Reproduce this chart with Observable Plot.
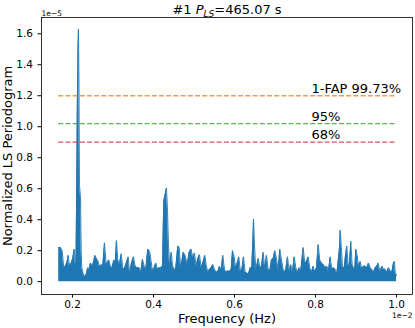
<!DOCTYPE html>
<html>
<head>
<meta charset="utf-8">
<script src="https://cdn.jsdelivr.net/npm/d3@7"></script>
<script src="https://cdn.jsdelivr.net/npm/@observablehq/plot@0.6"></script>
<style>
  html, body { margin: 0; padding: 0; background: white; }
  #chart { width: 415px; height: 328px; }
</style>
</head>
<body>
<div id="chart"></div>
<script>
// Frequency in units of 1e-2 Hz, power in units of 1e-5
const freq = [
0.166,0.1704,0.1746,0.1785,0.1827,0.1869,0.1894,0.1926,0.1968,0.2007,0.2042,0.2074,
0.2086,0.2104,0.2119,0.2136,0.2148,0.2160,0.2173,0.2198,0.2215,0.2230,0.2254,0.2304,
0.2338,0.2378,0.2402,0.2444,0.2486,0.2526,0.2551,0.2593,0.2635,0.2674,0.2709,0.2748,
0.2790,0.2832,0.2872,0.2896,0.2938,0.2980,0.3020,0.3054,0.3086,0.3119,0.3160,0.3202,
0.3242,0.3277,0.3316,0.3375,0.3415,0.3457,0.3506,0.3548,0.3597,0.3647,0.3686,0.3728,
0.3770,0.3810,0.3859,0.3909,0.3943,0.3975,0.4017,0.4057,0.4099,0.4141,0.4180,0.4222,
0.4254,0.4289,0.4321,0.4346,0.4370,0.4402,0.4437,0.4469,0.4511,0.4551,0.4600,0.4635,
0.4674,0.4733,0.4783,0.4832,0.4881,0.4931,0.4970,0.5012,0.5054,0.5094,0.5136,0.5178,
0.5217,0.5267,0.5301,0.5341,0.5383,0.5425,0.5464,0.5506,0.5548,0.5588,0.5630,0.5672,
0.5711,0.5753,0.5795,0.5835,0.5877,0.5919,0.5951,0.5993,0.6025,0.6067,0.6106,0.6148,
0.6190,0.6222,0.6264,0.6304,0.6346,0.6388,0.6427,0.6452,0.6470,0.6494,0.6526,0.6585,
0.6625,0.6667,0.6709,0.6748,0.6790,0.6832,0.6872,0.6914,0.6956,0.6995,0.7037,0.7079,
0.7119,0.7160,0.7202,0.7242,0.7267,0.7309,0.7351,0.7390,0.7432,0.7474,0.7514,0.7556,
0.7598,0.7637,0.7696,0.7736,0.7778,0.7820,0.7859,0.7901,0.7943,0.7983,0.8025,0.8067,
0.8106,0.8148,0.8198,0.8240,0.8279,0.8321,0.8363,0.8402,0.8444,0.8486,0.8526,0.8568,
0.8593,0.8610,0.8635,0.8667,0.8709,0.8741,0.8773,0.8807,0.8840,0.8872,0.8906,0.8938,
0.8970,0.8995,0.9030,0.9062,0.9104,0.9143,0.9185,0.9227,0.9267,0.9309,0.9351,0.9390,
0.9432,0.9474,0.9514,0.9546,0.9595,0.9637,0.9679,0.9721,0.9760,0.9802,0.9844,0.9884,
0.9926,0.9951,0.9968,1.0000
];
const power = [
0.22,0.22,0.20,0.09,0.10,0.13,0.17,0.10,0.12,0.15,0.21,0.11,
0.11,0.60,1.12,1.50,1.63,1.30,0.62,0.55,0.20,0.09,0.06,0.03,
0.045,0.09,0.07,0.12,0.10,0.13,0.17,0.15,0.13,0.09,0.11,0.10,
0.25,0.11,0.13,0.14,0.10,0.09,0.14,0.12,0.265,0.14,0.11,0.18,
0.09,0.08,0.11,0.16,0.05,0.12,0.16,0.10,0.09,0.09,0.06,0.144,
0.10,0.08,0.21,0.19,0.13,0.07,0.09,0.12,0.08,0.09,0.09,0.10,
0.52,0.566,0.605,0.46,0.24,0.09,0.19,0.11,0.07,0.09,0.23,0.22,
0.08,0.19,0.17,0.11,0.19,0.21,0.15,0.185,0.10,0.15,0.174,0.09,
0.12,0.17,0.11,0.06,0.08,0.09,0.11,0.08,0.06,0.065,0.10,0.07,
0.17,0.08,0.06,0.07,0.065,0.08,0.20,0.16,0.09,0.12,0.16,0.06,
0.09,0.16,0.06,0.055,0.05,0.09,0.09,0.26,0.404,0.24,0.07,0.15,
0.09,0.10,0.19,0.08,0.17,0.08,0.07,0.14,0.15,0.20,0.15,0.07,
0.21,0.14,0.08,0.06,0.08,0.16,0.07,0.11,0.06,0.16,0.09,0.06,
0.09,0.07,0.22,0.12,0.13,0.16,0.09,0.06,0.10,0.06,0.09,0.24,
0.14,0.12,0.11,0.09,0.10,0.07,0.16,0.08,0.09,0.08,0.05,0.15,
0.22,0.333,0.24,0.09,0.09,0.17,0.23,0.10,0.12,0.26,0.11,0.09,
0.08,0.21,0.17,0.10,0.13,0.08,0.10,0.10,0.09,0.12,0.09,0.08,
0.06,0.09,0.10,0.12,0.06,0.10,0.08,0.08,0.06,0.09,0.07,0.06,
0.12,0.13,0.06,0.04
];

// False-alarm-probability levels
const fapLevels = [1.2, 1.02, 0.9];
const fapLabels = ["1-FAP 99.73%", "95%", "68%"];
const fapColors = ["#ff7f0e", "#2ca02c", "#d62728"];

const xTicks = [0.2, 0.4, 0.6, 0.8, 1.0];
const yTicks = [0.0, 0.2, 0.4, 0.6, 0.8, 1.0, 1.2, 1.4, 1.6];
const titleParts = ["#1 ", "P", "LS", "=465.07 s"];
const xLabel = "Frequency (Hz)";
const yLabel = "Normalized LS Periodogram";
const xOffsetText = "1e\u22122";
const yOffsetText = "1e\u22125";
const fapLabelX = 0.79;

const data = freq.map((f, i) => ({f, p: power[i]}));
const fap = fapLevels.map((level, i) => ({level, label: fapLabels[i], color: fapColors[i]}));
const fMin = freq[0], fMax = freq[freq.length - 1];
const font = "DejaVu Sans, sans-serif";
const titleText = titleParts.join("");

const chart = Plot.plot({
  width: 415,
  height: 328,
  marginLeft: 41,
  marginRight: 3,
  marginTop: 17,
  marginBottom: 34,
  style: {fontFamily: font, background: "white", color: "black", overflow: "visible"},
  x: {domain: [0.1235, 1.0395]},
  y: {domain: [-0.083, 1.705]},
  marks: [
    Plot.areaY(data, {x: "f", y: "p", fill: "#1f77b4"}),
    Plot.lineY(data, {x: "f", y: "p", stroke: "#1f77b4", strokeWidth: 0.9}),
    ...fap.map(d => Plot.ruleY([d.level], {x1: fMin, x2: fMax, stroke: d.color, strokeOpacity: 0.8, strokeWidth: 1.3, strokeDasharray: "5,2.2"})),
    ...fap.map(d => Plot.text([d.label], {x: fapLabelX, y: d.level, text: t => t, textAnchor: "start", lineAnchor: "bottom", dy: -3, fontSize: 13, fill: "black"})),
    Plot.frame({stroke: "black", strokeWidth: 0.8}),
    Plot.axisX({ticks: xTicks, tickFormat: d => d.toFixed(1), tickSize: 3.5, tickPadding: 3, fontSize: 10.5, label: null, stroke: "black"}),
    Plot.axisY({ticks: yTicks, tickFormat: d => d.toFixed(1), tickSize: 3.5, tickPadding: 5, fontSize: 10.5, label: null, stroke: "black"}),
    Plot.text([xLabel], {frameAnchor: "bottom", lineAnchor: "bottom", dy: 28, fontSize: 13, fill: "black"}),
    Plot.text([yLabel], {frameAnchor: "left", rotate: -90, textAnchor: "middle", lineAnchor: "bottom", dx: -30, fontSize: 13, fill: "black"}),
    Plot.text([titleText], {frameAnchor: "top", lineAnchor: "bottom", dy: -4, fontSize: 13, fill: "black"}),
    Plot.text([yOffsetText], {frameAnchor: "top-left", textAnchor: "start", lineAnchor: "bottom", dy: -2, fontSize: 7.5, fill: "black"}),
    Plot.text([xOffsetText], {frameAnchor: "bottom-right", textAnchor: "end", lineAnchor: "bottom", dy: 23, fontSize: 7.5, fill: "black"})
  ]
});

document.getElementById("chart").appendChild(chart);

// Rebuild the title with italic P and subscript LS
d3.select(chart).selectAll("text")
  .filter(function () { return this.textContent === titleText; })
  .each(function () {
    const t = d3.select(this);
    t.text(null);
    t.append("tspan").text(titleParts[0]);
    t.append("tspan").attr("font-style", "italic").text(titleParts[1]);
    t.append("tspan").attr("font-style", "italic").attr("font-size", "9px").attr("dy", "3").text(titleParts[2]);
    t.append("tspan").attr("dy", "-3").text(titleParts[3]);
  });
</script>
</body>
</html>
